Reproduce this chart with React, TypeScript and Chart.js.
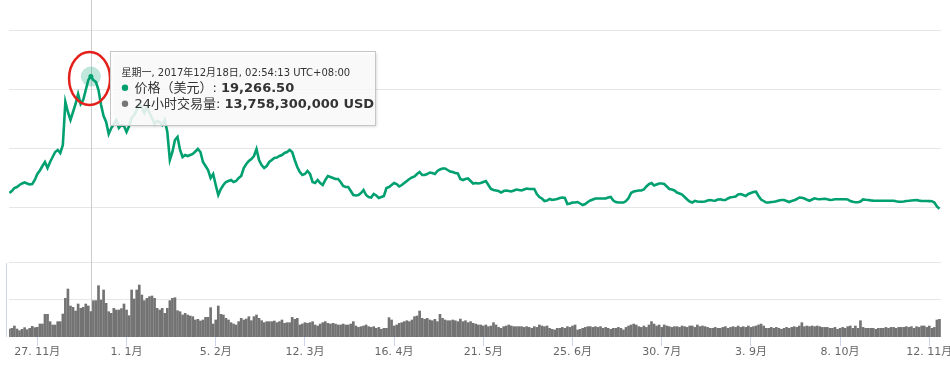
import React, { useEffect, useRef } from "react";
import { Chart, registerables } from "chart.js";

Chart.register(...registerables);

// ---- Data -----------------------------------------------------------------
// Day offsets from 16 Nov 2017 (index 0) to 16 Nov 2018 (index 365)
const tickDays = [11, 46, 81, 116, 151, 186, 221, 256, 291, 326, 361];
const tickLabels = [
  "27. 11月", "1. 1月", "5. 2月", "12. 3月", "16. 4月", "21. 5月",
  "25. 6月", "30. 7月", "3. 9月", "8. 10月", "12. 11月",
];
const priceGridValues = [6000, 12000, 18000, 24000];
const volumeGridValues = [20, 40]; // billions USD

// Price (USD), one value per day
const priceUSD = [
  7424, 7627, 7932, 8034, 8237, 8390, 8492, 8390, 8288, 8339,
  8746, 9356, 9712, 10170, 10577, 9966, 10577, 11085, 11594, 11797,
  11492, 12305, 16679, 15662, 14848, 15662, 16475, 17492, 16475, 16882,
  17899, 18916, 19266.5, 18916, 18713, 17899, 16373, 15255, 14645, 13424,
  14035, 14441, 14848, 14035, 14339, 14238, 13628, 14238, 15052, 15357,
  15865, 16475, 16068, 15560, 16272, 15560, 15052, 14441, 14746, 14645,
  14339, 14848, 13628, 10780, 11594, 12814, 13119, 11797, 11085, 11289,
  11187, 11289, 11390, 11644, 11899, 11594, 10577, 10170, 9763, 8949,
  9356, 8237, 7220, 7831, 8237, 8543, 8644, 8746, 8543, 8644,
  8949, 9153, 9966, 10373, 10678, 10882, 11187, 11899, 10780, 10271,
  9966, 10170, 10577, 10780, 10984, 11034, 11187, 11289, 11492, 11594,
  11797, 11594, 10780, 10068, 9560, 9254, 9356, 9661, 9356, 8543,
  8441, 8746, 8441, 8237, 8746, 9153, 9051, 8949, 8848, 8848,
  8543, 8136, 8034, 8034, 7627, 7220, 7170, 7220, 7424, 7729,
  7220, 7017, 6966, 7322, 7170, 6915, 7017, 7119, 7932, 8034,
  8237, 8441, 8339, 8085, 8237, 8441, 8644, 8848, 9000, 9102,
  9356, 9560, 9254, 9254, 9356, 9509, 9458, 9356, 9661, 9814,
  9916, 9916, 9763, 9610, 9560, 9458, 9407, 8848, 8746, 8848,
  8899, 8644, 8390, 8441, 8390, 8441, 8543, 8644, 8237, 7831,
  7729, 7678, 7627, 7475, 7627, 7678, 7627, 7576, 7678, 7780,
  7729, 7678, 7780, 7882, 7831, 7831, 7831, 7322, 7017, 6865,
  6610, 6661, 6814, 6712, 6763, 6814, 6915, 6966, 6915, 6305,
  6356, 6458, 6458, 6509, 6356, 6203, 6305, 6509, 6661, 6763,
  6865, 6865, 6865, 6865, 6865, 6966, 7017, 6661, 6509, 6458,
  6458, 6458, 6610, 6915, 7424, 7576, 7627, 7678, 7678, 7780,
  8085, 8339, 8441, 8187, 8288, 8390, 8390, 8339, 8085, 7831,
  7780, 7678, 7475, 7373, 7271, 7017, 6763, 6559, 6458, 6631,
  6559, 6539, 6539, 6559, 6661, 6712, 6661, 6641, 6763, 6783,
  6712, 6712, 6865, 6986, 7017, 7068, 7271, 7322, 7220, 7119,
  7322, 7424, 7525, 7556, 7119, 6763, 6610, 6458, 6458, 6509,
  6539, 6580, 6661, 6712, 6712, 6610, 6509, 6610, 6681, 6814,
  6966, 6936, 6865, 6743, 6631, 6763, 6885, 6814, 6783, 6814,
  6844, 6783, 6712, 6743, 6783, 6783, 6783, 6783, 6783, 6763,
  6610, 6529, 6488, 6488, 6559, 6773, 6732, 6712, 6671, 6651,
  6641, 6641, 6641, 6641, 6641, 6641, 6641, 6631, 6580, 6539,
  6539, 6559, 6610, 6631, 6661, 6692, 6712, 6651, 6610, 6610,
  6610, 6600, 6590, 6458, 6051, 5827,
];

// 24h volume (billions USD), one value per day
const volumeBillionUSD = [
  4.32, 4.68, 5.95, 4.32, 3.42, 4.14, 5.05, 3.96, 4.68, 5.77,
  5.05, 5.23, 7.03, 7.03, 12.25, 12.25, 8.29, 6.49, 6.49, 8.29,
  8.29, 12.43, 20.9, 25.94, 16.76, 16.04, 14.05, 17.84, 15.5, 16.04,
  17.84, 16.76, 13.7583, 19.64, 19.64, 27.75, 20.0, 25.4, 18.2, 13.69,
  12.79, 15.5, 14.59, 14.59, 15.31, 17.84, 14.59, 11.53, 25.4, 20.54,
  25.4, 28.11, 22.7, 19.64, 20.9, 21.8, 22.16, 20.9, 15.5, 14.59,
  15.5, 12.79, 15.5, 19.64, 20.9, 21.26, 14.23, 13.69, 11.89, 12.79,
  11.89, 11.35, 10.99, 9.19, 9.55, 8.65, 9.19, 10.63, 10.63, 15.85,
  7.03, 9.19, 16.76, 12.25, 11.89, 10.09, 9.19, 7.75, 7.03, 6.49,
  8.29, 10.09, 9.19, 9.73, 10.99, 8.83, 10.99, 11.89, 10.09, 8.83,
  7.75, 8.29, 8.29, 8.29, 8.65, 7.75, 8.29, 9.19, 7.39, 7.75,
  7.75, 10.63, 9.55, 10.09, 6.49, 7.03, 7.75, 7.39, 7.75, 8.29,
  6.49, 5.95, 7.0, 7.75, 8.3, 7.4, 7.0, 7.4, 7.0, 6.5,
  6.5, 7.0, 6.5, 6.5, 7.0, 8.3, 5.95, 5.2, 5.6, 5.95,
  6.5, 5.6, 5.2, 5.6, 4.7, 5.2, 4.15, 4.7, 4.7, 10.45,
  9.2, 5.95, 6.5, 7.4, 7.75, 8.3, 8.8, 8.3, 9.2, 11.0,
  11.35, 14.05, 10.1, 9.55, 10.1, 9.2, 8.8, 9.55, 8.3, 12.25,
  10.1, 9.2, 8.8, 8.8, 9.2, 8.8, 8.3, 9.7, 8.3, 8.8,
  7.75, 8.3, 7.4, 7.0, 6.5, 6.5, 5.95, 6.5, 5.6, 5.95,
  7.75, 6.5, 5.2, 4.7, 5.6, 5.95, 6.5, 5.95, 5.6, 5.6,
  5.6, 5.6, 5.2, 5.6, 5.2, 4.7, 5.6, 5.2, 6.5, 5.95,
  5.6, 5.95, 4.7, 4.15, 3.8, 4.7, 4.7, 5.2, 4.7, 5.6,
  5.2, 5.95, 6.5, 3.8, 4.15, 4.7, 5.2, 5.6, 5.6, 5.2,
  5.6, 5.2, 5.6, 4.7, 5.2, 4.7, 4.15, 4.7, 4.7, 5.2,
  4.7, 3.8, 5.2, 5.95, 6.5, 7.0, 6.5, 5.6, 5.2, 5.95,
  5.2, 6.5, 8.3, 7.0, 5.95, 6.5, 5.2, 6.5, 5.95, 5.6,
  5.2, 5.6, 5.6, 5.2, 5.95, 5.6, 5.2, 5.95, 5.95, 5.2,
  6.5, 5.6, 5.95, 5.6, 5.2, 4.7, 4.7, 5.2, 4.7, 4.7,
  5.2, 5.6, 4.7, 5.2, 5.6, 5.2, 5.95, 5.2, 5.6, 5.2,
  5.95, 5.2, 5.6, 5.95, 6.5, 7.0, 5.95, 4.7, 4.7, 5.2,
  4.7, 5.2, 4.7, 4.15, 4.7, 5.2, 4.7, 5.2, 5.6, 5.2,
  5.95, 7.75, 5.6, 5.95, 5.6, 5.95, 5.6, 5.95, 5.6, 5.2,
  5.2, 5.2, 4.7, 4.7, 5.2, 4.15, 4.7, 5.2, 4.7, 5.6,
  5.95, 4.7, 5.95, 4.7, 8.8, 5.2, 4.7, 4.7, 4.7, 4.7,
  4.15, 4.7, 4.7, 4.7, 5.2, 4.7, 5.2, 5.2, 4.7, 5.2,
  5.2, 5.2, 5.6, 5.2, 5.6, 4.7, 5.6, 5.2, 5.95, 5.95,
  5.2, 5.95, 4.7, 5.2, 9.2, 9.55,
];

const highlightIndex = 32;
const tooltipTitle = "星期一, 2017年12月18日, 02:54:13 UTC+08:00";
const priceLabel = "价格（美元）: ";
const priceValueText = "19,266.50";
const volumeLabel = "24小时交易量: ";
const volumeValueText = "13,758,300,000 USD";

// ---- Styling --------------------------------------------------------------
const LINE_COLOR = "#00a070";
const BAR_COLOR = "#737373";
const GRID_COLOR = "#e6e6e6";
const FONT = '"DejaVu Sans", "Noto Sans CJK SC", sans-serif';

const overlayPlugin = {
  id: "overlay",
  beforeDatasetsDraw(chart: any) {
    const { ctx, chartArea, scales } = chart;
    const px = scales.x.getPixelForValue(highlightIndex);
    const py = scales.y.getPixelForValue(priceUSD[highlightIndex]);
    ctx.save();
    // crosshair
    ctx.strokeStyle = "#cccccc";
    ctx.lineWidth = 1;
    const cx = Math.round(px) + 0.5;
    ctx.beginPath();
    ctx.moveTo(cx, 0);
    ctx.lineTo(cx, chartArea.bottom);
    ctx.stroke();
    // volume pane left axis line
    const vTop = scales.y1.getPixelForValue(volumeGridValues[volumeGridValues.length - 1]);
    ctx.strokeStyle = "#ccd6eb";
    const lx = Math.round(chartArea.left) - 2.5;
    ctx.beginPath();
    ctx.moveTo(lx, vTop);
    ctx.lineTo(lx, chartArea.bottom);
    ctx.stroke();
    // hover halo
    ctx.fillStyle = "rgba(0,160,112,0.25)";
    ctx.beginPath();
    ctx.arc(px, py, 10, 0, Math.PI * 2);
    ctx.fill();
    ctx.restore();
  },
  afterDraw(chart: any) {
    const { ctx, scales } = chart;
    const px = scales.x.getPixelForValue(highlightIndex);
    const py = scales.y.getPixelForValue(priceUSD[highlightIndex]);
    ctx.save();
    // marker
    ctx.fillStyle = LINE_COLOR;
    ctx.beginPath();
    ctx.arc(px, py, 2.5, 0, Math.PI * 2);
    ctx.fill();

    // red annotation ellipse
    ctx.strokeStyle = "#e3201b";
    ctx.lineWidth = 2.5;
    ctx.beginPath();
    ctx.ellipse(px - 1.3, py + 1.9, 20.5, 26.5, 0, 0, Math.PI * 2);
    ctx.stroke();

    // tooltip box
    const bx = Math.round(px + 19) + 0.5;
    const by = Math.round(py - 25.6) + 0.5;
    const bw = 265;
    const bh = 74;
    ctx.save();
    ctx.shadowColor = "rgba(0,0,0,0.22)";
    ctx.shadowOffsetX = 1;
    ctx.shadowOffsetY = 1;
    ctx.shadowBlur = 3;
    ctx.fillStyle = "rgba(255,255,255,0.86)";
    ctx.fillRect(bx, by, bw, bh);
    ctx.restore();
    ctx.strokeStyle = "#c6c6c6";
    ctx.lineWidth = 1;
    ctx.strokeRect(bx, by, bw, bh);

    ctx.textBaseline = "alphabetic";
    ctx.textAlign = "left";
    ctx.fillStyle = "#333333";
    ctx.font = `10px ${FONT}`;
    ctx.fillText(tooltipTitle, bx + 11, by + 24);

    const rows = [
      { color: LINE_COLOR, label: priceLabel, value: priceValueText, base: by + 40 },
      { color: "#777777", label: volumeLabel, value: volumeValueText, base: by + 56 },
    ];
    rows.forEach((r) => {
      ctx.fillStyle = r.color;
      ctx.beginPath();
      ctx.arc(bx + 14.5, r.base - 3.8, 3.2, 0, Math.PI * 2);
      ctx.fill();
      ctx.fillStyle = "#333333";
      ctx.font = `13px ${FONT}`;
      ctx.fillText(r.label, bx + 24, r.base);
      const w = ctx.measureText(r.label).width;
      ctx.font = `bold 13px ${FONT}`;
      ctx.fillText(r.value, bx + 24 + w, r.base);
    });
    ctx.restore();
  },
};

export default function App() {
  const canvasRef = useRef<HTMLCanvasElement | null>(null);

  useEffect(() => {
    const canvas = canvasRef.current;
    if (!canvas) return;
    const chart = new Chart(canvas, {
      type: "bar",
      data: {
        datasets: [
          {
            type: "line",
            label: "价格（美元）",
            data: priceUSD.map((v, i) => ({ x: i, y: v })),
            yAxisID: "y",
            borderColor: LINE_COLOR,
            borderWidth: 2.6,
            pointRadius: 0,
            tension: 0,
            fill: false,
            order: 1,
          } as any,
          {
            type: "bar",
            label: "24小时交易量",
            data: volumeBillionUSD.map((v, i) => ({ x: i, y: v })),
            yAxisID: "y1",
            backgroundColor: BAR_COLOR,
            barThickness: 2,
            grouped: false,
            order: 2,
          } as any,
        ],
      },
      options: {
        animation: false,
        responsive: false,
        events: [],
        layout: { padding: { left: 9, right: 9, top: 0, bottom: 0 } },
        plugins: { legend: { display: false }, tooltip: { enabled: false } },
        scales: {
          x: {
            type: "linear",
            offset: false,
            min: -0.12,
            max: 365.6,
            afterBuildTicks: (axis: any) => {
              axis.ticks = tickDays.map((v) => ({ value: v }));
            },
            afterFit: (axis: any) => {
              axis.height = 30;
              axis.paddingLeft = 0;
              axis.paddingRight = 0;
            },
            ticks: {
              autoSkip: false,
              maxRotation: 0,
              minRotation: 0,
              padding: 0,
              color: "#666666",
              font: { family: FONT, size: 11 },
              callback: (v: any) => {
                const k = tickDays.indexOf(Number(v));
                return k >= 0 ? tickLabels[k] : "";
              },
            },
            grid: {
              offset: false,
              drawOnChartArea: false,
              drawTicks: true,
              tickLength: 9,
              tickColor: "#ccd6eb",
              tickWidth: 1,
            },
            border: { display: false },
          },
          y: {
            position: "left",
            min: -7220,
            max: 27051,
            afterBuildTicks: (axis: any) => {
              axis.ticks = priceGridValues.map((v) => ({ value: v }));
            },
            afterFit: (axis: any) => {
              axis.width = 0;
              axis.paddingTop = 0;
              axis.paddingBottom = 0;
            },
            ticks: { display: false },
            grid: { color: GRID_COLOR, drawTicks: false, lineWidth: 1 },
            border: { display: false },
          },
          y1: {
            position: "left",
            min: 0,
            max: 182.16,
            afterBuildTicks: (axis: any) => {
              axis.ticks = volumeGridValues.map((v) => ({ value: v }));
            },
            afterFit: (axis: any) => {
              axis.width = 0;
              axis.paddingTop = 0;
              axis.paddingBottom = 0;
            },
            ticks: { display: false },
            grid: { color: GRID_COLOR, drawTicks: false, lineWidth: 1 },
            border: { display: false },
          },
        },
      } as any,
      plugins: [overlayPlugin],
    });
    return () => chart.destroy();
  }, []);

  return (
    <div
      style={{
        position: "absolute",
        left: 0,
        top: 0,
        width: 950,
        height: 367,
        background: "#ffffff",
      }}
    >
      <canvas ref={canvasRef} width={950} height={367} style={{ display: "block" }} />
    </div>
  );
}
